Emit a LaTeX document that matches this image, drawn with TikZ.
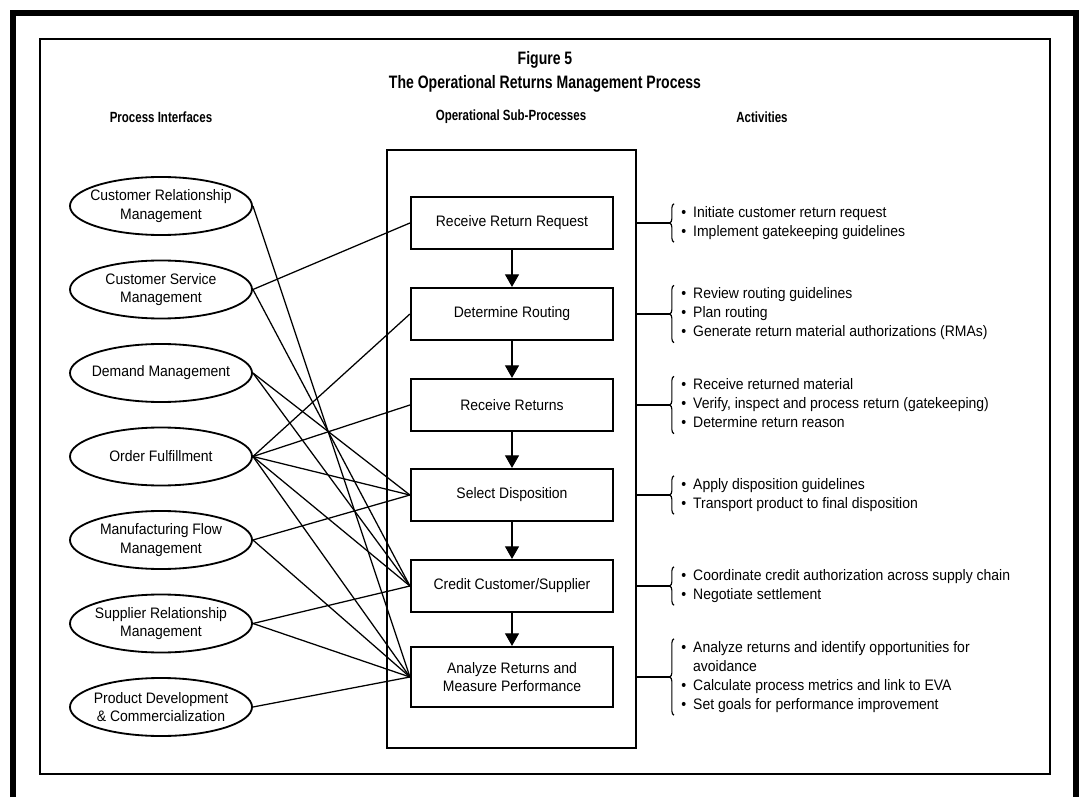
\documentclass[tikz,border=0pt]{standalone}
\usepackage{fontspec}
\setmainfont{Liberation Sans}[FakeStretch=0.92]
\newfontfamily\headfont{Liberation Sans}[FakeStretch=0.78]
\usetikzlibrary{arrows.meta,shapes.geometric,decorations.pathreplacing}

\begin{document}
\begin{tikzpicture}[x=0.025cm, y=0.025cm, >={Triangle[width=10pt,length=9pt]},
    iface/.style={ellipse, draw, line width=1.3pt, minimum width=4.55cm, minimum height=1.45cm,
      inner xsep=-20pt, inner ysep=0pt, align=center, font=\fontsize{10.8}{13}\selectfont},
    subproc/.style={rectangle, draw, line width=1.5pt, minimum width=5.05cm, minimum height=1.3cm,
      align=center, font=\fontsize{10.8}{13}\selectfont},
    link/.style={line width=0.9pt},
    brace/.style={decorate, decoration={brace, amplitude=3pt}, line width=0.8pt},
    heading/.style={font=\headfont\bfseries\fontsize{10.5}{12}\selectfont},
    titletext/.style={font=\headfont\bfseries\fontsize{12.8}{15}\selectfont},
    activity/.style={anchor=west, inner sep=0pt, align=left, font=\fontsize{10.8}{13.5}\selectfont}]
    \useasboundingbox (0,0) rectangle (1082,797);

    % frames
    \draw[line width=4.3pt] (13,0) -- (13,784) -- (1076,784) -- (1076,0);
    \draw[line width=1.2pt] (40,23) rectangle (1050,758);

    \node[titletext] (fig) at (545,737) {Figure 5};
    \node[titletext] (title) at (545,713) {The Operational Returns Management Process};
    \node[heading] (hpi) at (161,680) {Process Interfaces};
    \node[heading] (hop) at (511,680) {Operational Sub-Processes};
    \node[heading] (hac) at (762,680) {Activities};

    % process interfaces
    \node[iface] (crm) at (161,591) {Customer Relationship\\Management};
    \node[iface] (csm) at (161,507.5) {Customer Service\\Management};
    \node[iface] (dm) at (161,424) {Demand Management};
    \node[iface] (of) at (161,340.5) {Order Fulfillment};
    \node[iface] (mfm) at (161,257) {Manufacturing Flow\\Management};
    \node[iface] (srm) at (161,173.5) {Supplier Relationship\\Management};
    \node[iface] (pdc) at (161,90) {Product Development\\\& Commercialization};

    % operational sub-processes
    \node[draw, line width=1.3pt, minimum width=6.225cm, minimum height=14.95cm, inner sep=0pt] (ops) at (511.5,348) {};
    \node[subproc] (rrr) at (512,574) {Receive Return Request};
    \node[subproc] (dr) at (512,483) {Determine Routing};
    \node[subproc] (rr) at (512,392) {Receive Returns};
    \node[subproc] (sd) at (512,302) {Select Disposition};
    \node[subproc] (ccs) at (512,211) {Credit Customer/Supplier};
    \node[subproc, minimum height=1.5cm] (arm) at (512,120) {Analyze Returns and\\Measure Performance};

    \draw[->, line width=0.9pt] (rrr) -- (dr);
    \draw[->, line width=0.9pt] (dr) -- (rr);
    \draw[->, line width=0.9pt] (rr) -- (sd);
    \draw[->, line width=0.9pt] (sd) -- (ccs);
    \draw[->, line width=0.9pt] (ccs) -- (arm);

    \draw[link] (crm.east) -- (arm.west);
    \draw[link] (csm.east) -- (rrr.west);
    \draw[link] (csm.east) -- (ccs.west);
    \draw[link] (dm.east) -- (sd.west);
    \draw[link] (dm.east) -- (ccs.west);
    \draw[link] (of.east) -- (dr.west);
    \draw[link] (of.east) -- (rr.west);
    \draw[link] (of.east) -- (sd.west);
    \draw[link] (of.east) -- (ccs.west);
    \draw[link] (of.east) -- (arm.west);
    \draw[link] (mfm.east) -- (sd.west);
    \draw[link] (mfm.east) -- (arm.west);
    \draw[link] (srm.east) -- (ccs.west);
    \draw[link] (srm.east) -- (arm.west);
    \draw[link] (pdc.east) -- (arm.west);

    % activities
    \node[activity] (act1) at (681,574) {\begin{tabular}{@{}l@{\hspace{5pt}}l@{}}
      \textbullet & Initiate customer return request\\
      \textbullet & Implement gatekeeping guidelines\end{tabular}};
    \node[activity] (act2) at (681,483) {\begin{tabular}{@{}l@{\hspace{5pt}}l@{}}
      \textbullet & Review routing guidelines\\
      \textbullet & Plan routing\\
      \textbullet & Generate return material authorizations (RMAs)\end{tabular}};
    \node[activity] (act3) at (681,392) {\begin{tabular}{@{}l@{\hspace{5pt}}l@{}}
      \textbullet & Receive returned material\\
      \textbullet & Verify, inspect and process return (gatekeeping)\\
      \textbullet & Determine return reason\end{tabular}};
    \node[activity] (act4) at (681,302) {\begin{tabular}{@{}l@{\hspace{5pt}}l@{}}
      \textbullet & Apply disposition guidelines\\
      \textbullet & Transport product to final disposition\end{tabular}};
    \node[activity] (act5) at (681,211) {\begin{tabular}{@{}l@{\hspace{5pt}}l@{}}
      \textbullet & Coordinate credit authorization across supply chain\\
      \textbullet & Negotiate settlement\end{tabular}};
    \node[activity] (act6) at (681,120) {\begin{tabular}{@{}l@{\hspace{5pt}}l@{}}
      \textbullet & Analyze returns and identify opportunities for\\
                  & avoidance\\
      \textbullet & Calculate process metrics and link to EVA\\
      \textbullet & Set goals for performance improvement\end{tabular}};

    \draw[brace] ([xshift=-5pt]act1.south west) -- ([xshift=-5pt]act1.north west);
    \draw[brace] ([xshift=-5pt]act2.south west) -- ([xshift=-5pt]act2.north west);
    \draw[brace] ([xshift=-5pt]act3.south west) -- ([xshift=-5pt]act3.north west);
    \draw[brace] ([xshift=-5pt]act4.south west) -- ([xshift=-5pt]act4.north west);
    \draw[brace] ([xshift=-5pt]act5.south west) -- ([xshift=-5pt]act5.north west);
    \draw[brace] ([xshift=-5pt]act6.south west) -- ([xshift=-5pt]act6.north west);

    \coordinate (tip1) at ([xshift=-8pt]act1.west);
    \coordinate (tip2) at ([xshift=-8pt]act2.west);
    \coordinate (tip3) at ([xshift=-8pt]act3.west);
    \coordinate (tip4) at ([xshift=-8pt]act4.west);
    \coordinate (tip5) at ([xshift=-8pt]act5.west);
    \coordinate (tip6) at ([xshift=-8pt]act6.west);

    \draw[link] (ops.east |- rrr) -- (tip1);
    \draw[link] (ops.east |- dr) -- (tip2);
    \draw[link] (ops.east |- rr) -- (tip3);
    \draw[link] (ops.east |- sd) -- (tip4);
    \draw[link] (ops.east |- ccs) -- (tip5);
    \draw[link] (ops.east |- arm) -- (tip6);
\end{tikzpicture}
\end{document}
